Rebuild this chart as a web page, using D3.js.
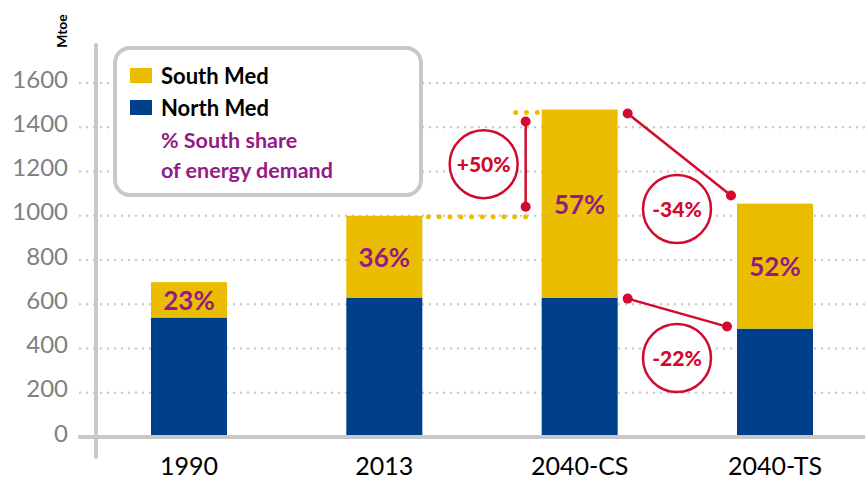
<!DOCTYPE html>
<html>
<head>
<meta charset="utf-8">
<script src="https://cdn.jsdelivr.net/npm/d3@7/dist/d3.min.js"></script>
<style>
  html, body { margin: 0; padding: 0; background: #fff; }
  svg { display: block; font-family: Lato, "Noto Sans", sans-serif; }
</style>
</head>
<body>
<svg id="chart" width="865" height="481"></svg>
<script>
// ---- data ----
const categories = ["1990", "2013", "2040-CS", "2040-TS"];
const northMed = [540, 630, 630, 490];
const southMed = [160, 370, 850, 565];
const southShareLabels = ["23%", "36%", "57%", "52%"];
const yTicks = [0, 200, 400, 600, 800, 1000, 1200, 1400, 1600];
const legendItems = ["South Med", "North Med"];
const legendNote = ["% South share", "of energy demand"];
const changeLabels = ["+50%", "-34%", "-22%"];

// ---- style ----
const YELLOW = "#eabd00", BLUE = "#003f8a", PURPLE = "#931b85", RED = "#d20a2e", GRAY = "#c8c8c8";

const svg = d3.select("#chart");
const x = d3.scalePoint().domain(categories).range([189, 775]);
const barW = 76;
const y = d3.scaleLinear().domain([0, 1600]).range([437, 83]);
const totals = northMed.map((n, i) => n + southMed[i]);

// gridlines
svg.append("g").selectAll("line").data(yTicks.slice(1)).join("line")
  .attr("x1", 80).attr("x2", 865)
  .attr("y1", d => y(d)).attr("y2", d => y(d))
  .attr("stroke", GRAY).attr("stroke-width", 2.4)
  .attr("stroke-linecap", "round")
  .attr("stroke-dasharray", "0,7");

// tick labels
svg.append("g").selectAll("text").data(yTicks).join("text")
  .attr("x", 68).attr("y", d => y(d) + 4.5)
  .attr("text-anchor", "end")
  .attr("font-size", 24).attr("fill", "#808080")
  .text(d => d);

// Mtoe label
svg.append("text")
  .attr("transform", "translate(67,31) rotate(-90)")
  .attr("text-anchor", "middle")
  .attr("font-size", 14).attr("font-weight", "bold").attr("fill", "#000")
  .text("Mtoe");

// bars
const g = svg.append("g");
g.selectAll("rect.north").data(categories).join("rect")
  .attr("class", "north")
  .attr("x", d => x(d) - barW / 2).attr("width", barW)
  .attr("y", (d, i) => y(northMed[i])).attr("height", (d, i) => y(0) - y(northMed[i]))
  .attr("fill", BLUE);
g.selectAll("rect.south").data(categories).join("rect")
  .attr("class", "south")
  .attr("x", d => x(d) - barW / 2).attr("width", barW)
  .attr("y", (d, i) => y(totals[i])).attr("height", (d, i) => y(northMed[i]) - y(totals[i]))
  .attr("fill", YELLOW);
g.selectAll("text.pct").data(categories).join("text")
  .attr("class", "pct")
  .attr("x", d => x(d))
  .attr("y", (d, i) => (y(totals[i]) + y(northMed[i])) / 2 + 10)
  .attr("text-anchor", "middle")
  .attr("font-size", 26).attr("font-weight", "bold").attr("fill", PURPLE)
  .text((d, i) => southShareLabels[i]);

// axes lines
svg.append("line").attr("x1", 78).attr("x2", 865).attr("y1", y(0)).attr("y2", y(0))
  .attr("stroke", GRAY).attr("stroke-width", 4);
svg.append("line").attr("x1", 96).attr("x2", 96).attr("y1", 45).attr("y2", 457)
  .attr("stroke", GRAY).attr("stroke-width", 4).attr("stroke-linecap", "round");

// legend
const lg = svg.append("g");
lg.append("rect").attr("x", 115).attr("y", 48).attr("width", 306).attr("height", 147)
  .attr("rx", 15).attr("fill", "#fff").attr("stroke", GRAY).attr("stroke-width", 4);
[YELLOW, BLUE].forEach((c, i) => {
  lg.append("rect").attr("x", 130).attr("y", 68 + i * 32).attr("width", 22).attr("height", 15).attr("fill", c);
  lg.append("text").attr("x", 161).attr("y", 84 + i * 32)
    .attr("font-size", 22).attr("font-weight", "bold").attr("fill", "#000")
    .text(legendItems[i]);
});
legendNote.forEach((t, i) => {
  lg.append("text").attr("x", 161).attr("y", 148 + i * 30)
    .attr("font-size", 21.5).attr("font-weight", "bold").attr("fill", PURPLE)
    .text(t);
});

// annotations
const ann = svg.append("g");
const i13 = 1, iCS = 2, iTS = 3;
const csLeft = x(categories[iCS]) - barW / 2, csRight = x(categories[iCS]) + barW / 2;
const tsLeft = x(categories[iTS]) - barW / 2;
const r13 = x(categories[i13]) + barW / 2;

// yellow dotted guides
function yDots(x1, x2, yy) {
  ann.append("line").attr("x1", x1).attr("x2", x2).attr("y1", yy).attr("y2", yy)
    .attr("stroke", YELLOW).attr("stroke-width", 5).attr("stroke-linecap", "round")
    .attr("stroke-dasharray", "0,10.8");
}
yDots(r13 + 6, csLeft - 6, y(totals[i13]) + 1);
yDots(csLeft - 26, csLeft - 4, y(totals[iCS]) + 3);

function redLine(x1, y1, x2, y2) {
  ann.append("line").attr("x1", x1).attr("y1", y1).attr("x2", x2).attr("y2", y2)
    .attr("stroke", RED).attr("stroke-width", 2.5);
  [[x1, y1], [x2, y2]].forEach(p => ann.append("circle").attr("cx", p[0]).attr("cy", p[1]).attr("r", 5).attr("fill", RED));
}
function badge(cx, cy, label) {
  ann.append("circle").attr("cx", cx).attr("cy", cy).attr("r", 34)
    .attr("fill", "#fff").attr("stroke", RED).attr("stroke-width", 2.5);
  ann.append("text").attr("x", cx).attr("y", cy + 7.5).attr("text-anchor", "middle")
    .attr("font-size", 21).attr("font-weight", 900).attr("fill", RED).text(label);
}
// +50%
const vx = csLeft - 16, vy1 = y(totals[iCS]) + 12, vy2 = y(totals[i13]) - 9;
redLine(vx, vy1, vx, vy2);
badge(csLeft - 58, (vy1 + vy2) / 2, changeLabels[0]);
// -34%
redLine(csRight + 10, y(totals[iCS]) + 4, tsLeft - 6, y(totals[iTS]) - 8);
badge(677, 209, changeLabels[1]);
// -22%
redLine(csRight + 10, y(northMed[iCS]) + 1, tsLeft - 10, y(northMed[iTS]) - 2);
badge(677, 358, changeLabels[2]);

// category labels
svg.append("g").selectAll("text").data(categories).join("text")
  .attr("x", d => x(d)).attr("y", 475)
  .attr("text-anchor", "middle")
  .attr("font-size", 25).attr("fill", "#000")
  .text(d => d);
</script>
</body>
</html>
